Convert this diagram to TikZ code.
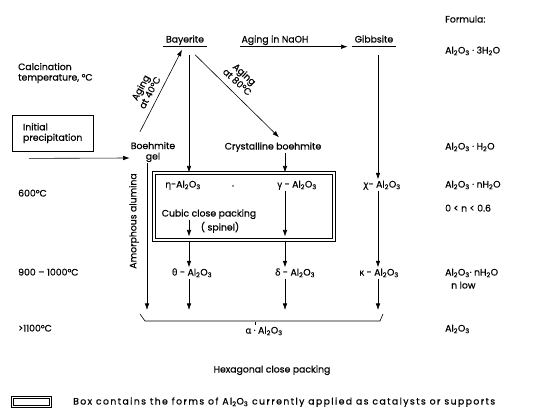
\documentclass[tikz,border=0pt]{standalone}
\usepackage{fontspec}
\setmainfont{Poppins}[FakeBold=0.6]
\newfontfamily\grk{Open Sans}[FakeBold=0.6]
\usetikzlibrary{arrows.meta,positioning}
\newcommand{\alo}{Al\textsubscript{2}O\textsubscript{3}}
\newcommand{\hyd}[1]{#1H\textsubscript{2}O}
\newcommand{\gr}[1]{{\grk #1}}
\tikzset{
  lbl/.style={inner sep=1pt,font=\fontsize{9.3}{11}\selectfont,text height=7pt,text depth=2pt},
  stack/.style={inner sep=1pt,font=\fontsize{9.3}{10.5}\selectfont,align=center},
  ul/.style={lbl,inner xsep=3pt,inner ysep=2pt},
  catbox/.style={draw,double,double distance=1.7pt,line width=1pt},
  arrow/.style={-{Latex[length=2.3mm,width=1.6mm]},semithick},
  rule/.style={semithick}
}
\begin{document}
\begin{tikzpicture}[x=1pt,y=-1pt]
\useasboundingbox (0,0) rectangle (536,415);
% columns of the vertical arrows
\coordinate (colG) at (147,0);
\coordinate (colA) at (189,0);
\coordinate (colB) at (285,0);
\coordinate (colC) at (378,0);
% bracket ends
\coordinate (brL) at (145,321);
\coordinate (brR) at (380,321);

% temperature column
\node[stack,align=left,anchor=west] (calc) at (17,73) {Calcination\\temperature, °C};
\node[lbl,anchor=west] (t600) at (17,194) {600°C};
\node[lbl,anchor=west] (t900) at (17,273) {900 -- 1000°C};
\node[lbl,anchor=west] (t1100) at (17,329) {>1100°C};

% formula column
\node[lbl,anchor=west] (form) at (444,20) {Formula:};
\node[lbl,anchor=west] (f1) at (444,51) {\alo{} · \hyd{3}};
\node[lbl,anchor=west] (f2) at (444,147) {\alo{} · \hyd{}};
\node[lbl,anchor=west] (f3) at (444,185) {\alo{} · \hyd{n}};
\node[lbl,anchor=west] (f3b) at (444,209) {0 < n < 0.6};
\node[lbl,anchor=west] (f4) at (444,273) {\alo{}· \hyd{n}};
\node[lbl,anchor=west] (f4b) at (450,286) {n low};
\node[lbl,anchor=west] (f5) at (444,329) {\alo};

% starting materials
\node[draw,stack,align=left,anchor=north west,minimum width=81pt,minimum height=36pt,inner xsep=4pt] (init) at (12,115) {Initial\\precipitation};
\node[stack] (gel) at (153,152) {Boehmite\\gel};
\node[ul] (bay) at (185,40) {Bayerite};
\node[lbl] (naoh) at (275,40) {Aging in NaOH};
\node[ul] (gib) at (374,40) {Gibbsite};
\node[lbl] (crys) at (273,147) {Crystalline boehmite};

% transition aluminas
\node[catbox,minimum width=180pt,minimum height=67pt] (box) at (244,206.5) {};
\node[lbl] (eta) at (183,185) {\gr{η}-\alo};
\node[lbl] (dot) at (233,184) {.};
\node[lbl] (gam) at (297,185) {\gr{γ} - \alo};
\node[lbl] (cubic) at (209,214) {Cubic close packing};
\node[lbl] (spin) at (220,228) {( spinel)};
\node[lbl] (chi) at (382,185) {\gr{χ}- \alo};
\node[lbl] (the) at (192,273) {\gr{θ} - \alo};
\node[lbl] (del) at (295,273) {\gr{δ} - \alo};
\node[lbl] (kap) at (379,273) {\gr{κ} - \alo};
\node[lbl] (alp) at (264,331) {\gr{α} · \alo};
\node[lbl] (hex) at (272,370) {Hexagonal close packing};
\node[stack,rotate=90] (amor) at (134,221) {Amorphous alumina};

% legend
\node[catbox,minimum width=38pt,minimum height=9pt] (key) at (31.5,402) {};
\node[lbl,anchor=west] (keytxt) at (72,402) {\addfontfeature{LetterSpace=15}Box contains the forms of \alo{} currently applied as catalysts or supports};

% underlines
\draw[rule] (bay.south west) -- (bay.south east);
\draw[rule] (gib.south west) -- (gib.south east);

% aging routes
\draw[arrow] (naoh.south west |- bay.south) -- ([xshift=-4pt]gib.south west);
\draw[arrow] ([xshift=-13pt,yshift=9pt]gel.north) -- ([xshift=-3pt,yshift=-3pt]bay.south);
\node[stack,rotate=61.7] (ag40) at (145,90) {Aging\\at 40°C};
\draw[arrow] ([xshift=10pt,yshift=-8pt]bay.south) -- ([xshift=6pt,yshift=4pt]crys.north);
\node[stack,rotate=-42.5] (ag80) at (241,78) {Aging\\at 80°C};
\draw[arrow] (init.south -| 29,0) ++(0,7) -- (gel.west |- 0,158);

% calcination sequence
\draw[arrow] ([yshift=-8pt]bay.south -| colA) -- (box.north -| colA);
\draw[arrow] (crys.south -| colB) -- (box.north -| colB);
\draw[arrow] ([yshift=-8pt]gib.south -| colC) -- (chi.north -| colC);
\draw[arrow] (cubic.south -| colA) -- ([yshift=4pt]box.south -| colA);
\draw[arrow] (box.south -| colA) -- (the.north -| colA);
\draw[arrow] (gam.south -| colB) -- ([yshift=4pt]box.south -| colB);
\draw[arrow] (box.south -| colB) -- (del.north -| colB);
\draw[arrow] (chi.south -| colC) -- (kap.north -| colC);
\draw[arrow] (gel.south -| colG) -- ([yshift=11pt]brL -| colG);
\draw[arrow] (the.south -| colA) -- ([yshift=11pt]brL -| colA);
\draw[arrow] (del.south -| colB) -- ([yshift=11pt]brL -| colB);
\draw[arrow] (kap.south -| colC) -- ([yshift=11pt]brL -| colC);

% bracket onto alpha
\draw[rule] ([xshift=-5pt,yshift=7pt]brL) -- (brL) -- (brR) -- ([xshift=3pt,yshift=7pt]brR);
\draw[rule] (alp.north -| 255,0) -- ++(0,-3);
\end{tikzpicture}
\end{document}
